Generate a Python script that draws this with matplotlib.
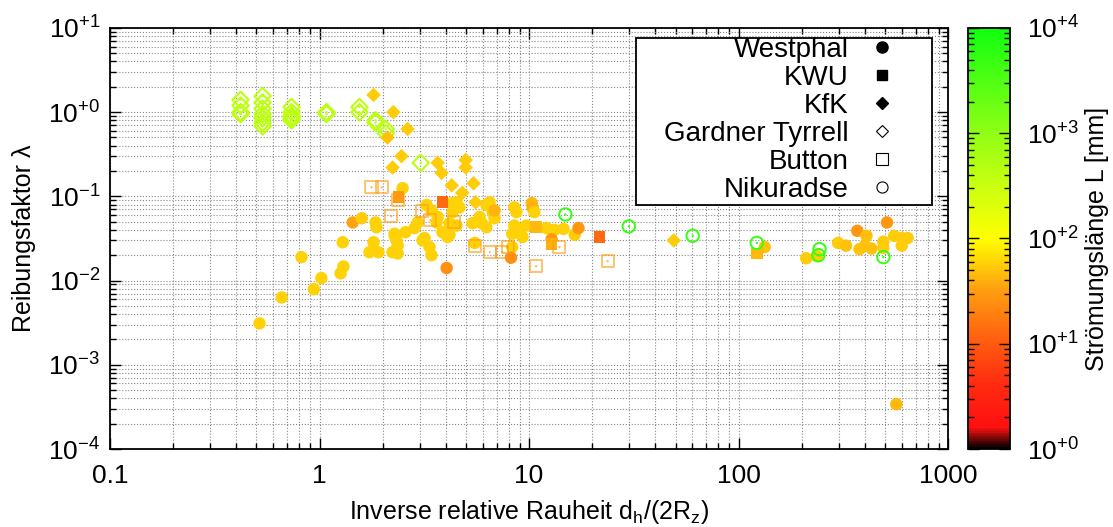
import numpy as np
import matplotlib
matplotlib.use("Agg")
import matplotlib.pyplot as plt
from matplotlib.colors import LinearSegmentedColormap, LogNorm
from matplotlib.lines import Line2D
from matplotlib.patches import Rectangle
from matplotlib.ticker import LogLocator, FixedLocator, NullFormatter, FuncFormatter

plt.rcParams['font.family'] = ['Liberation Sans', 'DejaVu Sans']
plt.rcParams['mathtext.fontset'] = 'custom'
plt.rcParams['mathtext.rm'] = 'Liberation Sans'
plt.rcParams['mathtext.default'] = 'regular'

# Westphal (filled circles): x, lambda, L [mm]
westphal_x = [0.517, 0.66, 0.82, 0.94, 1.02, 1.26, 1.30, 1.29, 1.44, 1.59, 1.85, 1.87, 1.81, 1.73, 1.91, 2.23, 2.28,
              2.49, 3.24, 3.42, 2.94, 2.84, 2.57, 2.28, 2.33, 2.36, 2.36, 3.10, 3.17, 3.35, 3.42, 3.86, 4.08, 3.62, 3.66,
              4.27, 4.5, 4.65, 4.31, 4.17, 4.17, 4.5, 5.37, 5.8, 6.25, 6.48, 6.7, 6.84, 5.94, 6.25, 5.5, 6.84,
              8.5, 8.7, 8.5, 8.3, 8.8, 9.3, 9.7, 10.3, 10.4, 10.6, 8.3, 8.2, 4.04,
              12.1, 13.2, 14.6, 16.5, 17.2, 12.8,
              133, 210, 236, 298, 325, 368, 407, 377, 400, 430, 510, 490, 490, 552, 600, 640, 600, 565]
westphal_lam = [0.0031, 0.0063, 0.019, 0.0079, 0.0107, 0.0122, 0.0147, 0.0285, 0.049, 0.055, 0.049, 0.043, 0.0285, 0.0217, 0.0217, 0.0217, 0.034,
                0.125, 0.079, 0.068, 0.049, 0.042, 0.0375, 0.036, 0.030, 0.026, 0.021, 0.030, 0.032, 0.025, 0.020, 0.0375, 0.033, 0.049, 0.057,
                0.083, 0.085, 0.074, 0.065, 0.048, 0.035, 0.045, 0.048, 0.057, 0.079, 0.085, 0.065, 0.055, 0.048, 0.043, 0.028, 0.068,
                0.074, 0.065, 0.045, 0.036, 0.042, 0.033, 0.045, 0.083, 0.073, 0.065, 0.025, 0.0187, 0.0141,
                0.042, 0.040, 0.041, 0.035, 0.042, 0.031,
                0.025, 0.0184, 0.0195, 0.028, 0.026, 0.039, 0.034, 0.0236, 0.026, 0.024, 0.049, 0.029, 0.0245, 0.034, 0.032, 0.032, 0.026, 0.00034]
westphal_L = [60, 60, 60, 60, 60, 60, 60, 60, 35, 55, 60, 60, 60, 60, 60, 60, 60,
              60, 60, 60, 60, 60, 60, 60, 60, 60, 60, 60, 60, 60, 60, 60, 60, 60, 60,
              60, 60, 60, 60, 60, 60, 60, 60, 60, 60, 60, 60, 60, 60, 60, 60, 42,
              60, 60, 60, 60, 60, 60, 60, 45, 40, 60, 60, 25, 25,
              60, 60, 60, 55, 28, 30,
              50, 55, 55, 55, 50, 28, 48, 50, 50, 50, 28, 55, 55, 55, 55, 55, 55, 45]

# KWU (filled squares)
kwu_x = [2.38, 3.86, 10.8, 12.8, 21.7, 122]
kwu_lam = [0.098, 0.085, 0.043, 0.027, 0.033, 0.021]
kwu_L = [30, 13, 45, 40, 13, 45]

# KfK (filled diamonds)
kfk_x = [1.81, 2.25, 2.63, 2.11, 2.46, 2.23, 3.66, 3.82, 4.98, 4.98, 4.27, 5.43, 4.8, 5.55, 49]
kfk_lam = [1.6, 1.0, 0.63, 0.5, 0.30, 0.22, 0.25, 0.19, 0.27, 0.22, 0.135, 0.143, 0.11, 0.085, 0.030]
kfk_L = [55, 55, 55, 50, 55, 55, 55, 55, 55, 55, 55, 55, 55, 55, 55]

# Gardner Tyrrell (open diamonds)
gt_x = [0.42, 0.42, 0.42, 0.42,
        0.535, 0.535, 0.535, 0.535, 0.535, 0.535, 0.535,
        0.735, 0.735, 0.735, 0.735, 0.735,
        1.08, 1.08, 1.55, 1.55, 1.85, 1.85, 2.07, 2.07, 3.04]
gt_lam = [1.4, 1.2, 1.0, 0.95,
          1.55, 1.3, 1.1, 0.95, 0.85, 0.75, 0.68,
          1.15, 1.0, 0.9, 0.85, 0.8,
          1.0, 0.95, 1.15, 1.0, 0.8, 0.75, 0.63, 0.56, 0.25]
gt_L = [420] * 25

# Button (open squares)
button_x = [1.77, 1.98, 2.2, 2.38, 3.07, 3.38, 4.4, 5.5, 6.5, 7.46, 7.9, 10.8, 13.96, 23.7]
button_lam = [0.128, 0.128, 0.058, 0.09, 0.067, 0.052, 0.049, 0.026, 0.0218, 0.0218, 0.025, 0.0148, 0.025, 0.017]
button_L = [30] * 14

# Nikuradse (open circles)
nik_x = [14.9, 29.9, 60.3, 122, 243, 240, 490]
nik_lam = [0.061, 0.044, 0.034, 0.028, 0.0236, 0.020, 0.019]
nik_L = [5000] * 7

cmap = LinearSegmentedColormap.from_list("gp", [
    (0.0, '#000000'), (0.05, '#ff1010'), (0.15, '#ff2a10'), (0.25, '#ff5a10'),
    (0.38, '#ffa010'), (0.5, '#ffff00'), (0.62, '#ccff10'), (0.75, '#90ff15'), (1.0, '#10ff10')])
norm = LogNorm(1, 1e4)

fig = plt.figure(figsize=(11.13, 5.27), dpi=100)
ax = fig.add_axes([0.0988, 0.148, 0.7532, 0.799])
cax = fig.add_axes([0.870, 0.148, 0.0377, 0.799])

ax.scatter(gt_x, gt_lam, s=70, marker='D', facecolors='none', edgecolors=cmap(norm(gt_L)), linewidths=1.5, zorder=3)
ax.scatter(gt_x, gt_lam, s=2, marker='.', c=cmap(norm(gt_L)), zorder=3)
ax.scatter(westphal_x, westphal_lam, s=80, marker='o', c=cmap(norm(westphal_L)), edgecolors='none', zorder=3)
ax.scatter(kwu_x, kwu_lam, s=70, marker='s', c=cmap(norm(kwu_L)), edgecolors='none', zorder=3)
ax.scatter(kfk_x, kfk_lam, s=55, marker='D', c=cmap(norm(kfk_L)), edgecolors='none', zorder=3)
ax.scatter(button_x, button_lam, s=75, marker='s', facecolors='none', edgecolors=cmap(norm(button_L)),
           linewidths=1.4, alpha=0.6, zorder=4)
ax.scatter(button_x, button_lam, s=2, marker='.', c=cmap(norm(button_L)), alpha=0.6, zorder=4)
ax.scatter(nik_x, nik_lam, s=80, marker='o', facecolors='none', edgecolors=cmap(norm(nik_L)), linewidths=1.4, zorder=4)
ax.scatter(nik_x, nik_lam, s=2, marker='.', c=cmap(norm(nik_L)), zorder=4)

ax.set_xscale('log')
ax.set_yscale('log')
ax.set_xlim(0.1, 1000)
ax.set_ylim(1e-4, 10)

ax.xaxis.set_major_formatter(FuncFormatter(lambda v, p: {0.1: '0.1', 1: '1', 10: '10', 100: '100', 1000: '1000'}.get(round(v, 1), '')))
ax.yaxis.set_major_locator(LogLocator(base=10, numticks=10))
ax.yaxis.set_major_formatter(FuncFormatter(lambda v, p: r'$10^{%s}$' % (('+%d' if v >= 1 else '\u2212%d') % abs(round(np.log10(v))))))
ax.xaxis.set_minor_locator(LogLocator(base=10, subs=np.arange(2, 10), numticks=20))
ax.yaxis.set_minor_locator(LogLocator(base=10, subs=np.arange(2, 10), numticks=20))
ax.xaxis.set_minor_formatter(NullFormatter())
ax.yaxis.set_minor_formatter(NullFormatter())
ax.tick_params(which='both', direction='in', top=True, right=True, labelsize=19, width=1.0)
ax.tick_params(axis='x', which='major', pad=11)
ax.tick_params(axis='y', which='major', pad=7)
ax.tick_params(which='major', length=8)
ax.tick_params(which='minor', length=4)
ax.grid(True, which='both', ls=':', color='#888888', lw=0.8)
for s in ax.spines.values():
    s.set_linewidth(1.3)

ax.set_xlabel('Inverse relative Rauheit d$_h$/(2R$_z$)', fontsize=18, labelpad=7)
ax.set_ylabel('Reibungsfaktor \u03bb', fontsize=18, labelpad=9)

# legend frame drawn separately, legend text right-aligned with markers on the right
ax.add_patch(Rectangle((0.628, 0.58), 0.353, 0.396, transform=ax.transAxes, facecolor='white',
                       edgecolor='k', lw=1.3, zorder=9))
handles = [
    Line2D([], [], marker='o', color='k', ls='none', ms=8),
    Line2D([], [], marker='s', color='k', ls='none', ms=7),
    Line2D([], [], marker='D', color='k', ls='none', ms=6),
    Line2D([], [], marker='D', mfc='none', mec='k', ls='none', ms=6, mew=0.8),
    Line2D([], [], marker='s', mfc='none', mec='k', ls='none', ms=8, mew=0.8),
    Line2D([], [], marker='o', mfc='none', mec='k', ls='none', ms=8, mew=0.8),
]
labels = ['Westphal', 'KWU', 'KfK', 'Gardner Tyrrell', 'Button', 'Nikuradse']
leg = ax.legend(handles, labels, loc='upper right', bbox_to_anchor=(0.938, 0.978), markerfirst=False,
                fontsize=20, labelspacing=0.07, handlelength=1.0, handletextpad=0.72, borderpad=0,
                frameon=False, borderaxespad=0)
leg.set_zorder(10)

sm = plt.cm.ScalarMappable(norm=norm, cmap=cmap)
cb = fig.colorbar(sm, cax=cax)
cb.outline.set_linewidth(1.3)
cax.yaxis.set_major_locator(FixedLocator([1, 10, 100, 1000, 10000]))
cax.yaxis.set_minor_locator(LogLocator(base=10, subs=np.arange(2, 10), numticks=20))
cax.yaxis.set_major_formatter(FuncFormatter(lambda v, p: r'$10^{+%d}$' % round(np.log10(v))))
cax.yaxis.set_minor_formatter(NullFormatter())
cax.tick_params(which='both', direction='in', left=True, right=True, labelsize=19, width=1.0)
cax.tick_params(which='major', length=8, pad=12)
cax.tick_params(which='minor', length=4)
cb.set_label('Str\u00f6mungsl\u00e4nge L [mm]', fontsize=18, labelpad=4)

fig.savefig('out.png', dpi=100)
